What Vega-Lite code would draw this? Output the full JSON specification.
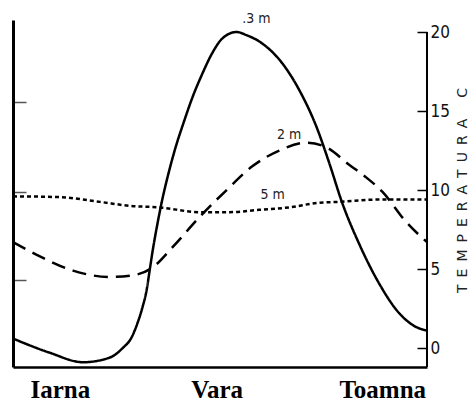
{
  "$schema": "https://vega.github.io/schema/vega-lite/v6.json",
  "width": 414,
  "height": 347,
  "autosize": {"type": "none"},
  "padding": {"left": 13, "top": 20, "right": 43, "bottom": 34},
  "background": "white",
  "config": {"view": {"stroke": null}},
  "datasets": {
    "curves": [
      {"x": 0, "t": 0.6, "d": "3 m"},
      {"x": 8.9, "t": -0.3, "d": "3 m"},
      {"x": 16.9, "t": -0.9, "d": "3 m"},
      {"x": 23.4, "t": -0.6, "d": "3 m"},
      {"x": 26.5, "t": 0.0, "d": "3 m"},
      {"x": 28.7, "t": 0.7, "d": "3 m"},
      {"x": 30.1, "t": 1.6, "d": "3 m"},
      {"x": 31.3, "t": 2.6, "d": "3 m"},
      {"x": 32.3, "t": 3.7, "d": "3 m"},
      {"x": 33.0, "t": 4.9, "d": "3 m"},
      {"x": 33.7, "t": 6.1, "d": "3 m"},
      {"x": 34.7, "t": 7.6, "d": "3 m"},
      {"x": 35.9, "t": 9.2, "d": "3 m"},
      {"x": 37.8, "t": 11.3, "d": "3 m"},
      {"x": 39.5, "t": 12.9, "d": "3 m"},
      {"x": 41.0, "t": 14.1, "d": "3 m"},
      {"x": 43.4, "t": 15.9, "d": "3 m"},
      {"x": 45.8, "t": 17.4, "d": "3 m"},
      {"x": 48.2, "t": 18.7, "d": "3 m"},
      {"x": 50.6, "t": 19.6, "d": "3 m"},
      {"x": 54.0, "t": 20.0, "d": "3 m"},
      {"x": 56.4, "t": 19.8, "d": "3 m"},
      {"x": 59.5, "t": 19.4, "d": "3 m"},
      {"x": 65.1, "t": 18.0, "d": "3 m"},
      {"x": 69.2, "t": 16.3, "d": "3 m"},
      {"x": 73.3, "t": 14.0, "d": "3 m"},
      {"x": 76.4, "t": 11.7, "d": "3 m"},
      {"x": 79.5, "t": 9.2, "d": "3 m"},
      {"x": 83.6, "t": 6.6, "d": "3 m"},
      {"x": 88.4, "t": 4.1, "d": "3 m"},
      {"x": 93.3, "t": 2.2, "d": "3 m"},
      {"x": 96.9, "t": 1.4, "d": "3 m"},
      {"x": 100, "t": 1.1, "d": "3 m"},
      {"x": 0, "t": 6.7, "d": "2 m"},
      {"x": 6.5, "t": 5.8, "d": "2 m"},
      {"x": 14.5, "t": 4.9, "d": "2 m"},
      {"x": 23.4, "t": 4.5, "d": "2 m"},
      {"x": 28.9, "t": 4.6, "d": "2 m"},
      {"x": 33.7, "t": 5.1, "d": "2 m"},
      {"x": 38.6, "t": 6.4, "d": "2 m"},
      {"x": 45.1, "t": 8.3, "d": "2 m"},
      {"x": 51.6, "t": 10.0, "d": "2 m"},
      {"x": 57.8, "t": 11.5, "d": "2 m"},
      {"x": 64.3, "t": 12.5, "d": "2 m"},
      {"x": 70.8, "t": 13.0, "d": "2 m"},
      {"x": 75.7, "t": 12.7, "d": "2 m"},
      {"x": 81.2, "t": 11.6, "d": "2 m"},
      {"x": 85.3, "t": 10.8, "d": "2 m"},
      {"x": 89.2, "t": 9.9, "d": "2 m"},
      {"x": 94.9, "t": 8.0, "d": "2 m"},
      {"x": 100, "t": 6.7, "d": "2 m"},
      {"x": 0, "t": 9.6, "d": "5 m"},
      {"x": 11.3, "t": 9.55, "d": "5 m"},
      {"x": 21, "t": 9.25, "d": "5 m"},
      {"x": 28.2, "t": 9.0, "d": "5 m"},
      {"x": 35.4, "t": 8.9, "d": "5 m"},
      {"x": 45.1, "t": 8.6, "d": "5 m"},
      {"x": 52.3, "t": 8.6, "d": "5 m"},
      {"x": 59.5, "t": 8.75, "d": "5 m"},
      {"x": 66.7, "t": 8.9, "d": "5 m"},
      {"x": 74, "t": 9.2, "d": "5 m"},
      {"x": 78.8, "t": 9.25, "d": "5 m"},
      {"x": 88.4, "t": 9.4, "d": "5 m"},
      {"x": 100, "t": 9.4, "d": "5 m"}
    ],
    "labels": [
      {"x": 58.8, "t": 20.8, "label": ".3 m"},
      {"x": 66.7, "t": 13.5, "label": "2 m"},
      {"x": 62.7, "t": 9.7, "label": "5 m"}
    ],
    "axisline": [
      {"x": 100, "t": -1.2, "t2": 20}
    ]
  },
  "layer": [
    {
      "data": {"name": "curves"},
      "mark": {"type": "line", "interpolate": "monotone", "color": "black", "strokeWidth": 2.5},
      "encoding": {
        "x": {
          "field": "x", "type": "quantitative",
          "scale": {"domain": [0, 100], "nice": false, "zero": false},
          "axis": {
            "orient": "bottom", "values": [11.3, 49.2, 89.2], "title": null,
            "labelExpr": "datum.value < 30 ? 'Iarna' : datum.value < 70 ? 'Vara' : 'Toamna'",
            "labelFont": "Liberation Serif", "labelFontSize": 25, "labelFontWeight": "bold",
            "labelColor": "black", "labelPadding": 10, "ticks": false, "grid": false,
            "domainColor": "black", "domainWidth": 2.5, "labelBaseline": "top"
          }
        },
        "y": {
          "field": "t", "type": "quantitative",
          "scale": {"domain": [-1.2, 20.76], "nice": false, "zero": false},
          "axis": {
            "orient": "right", "values": [0, 5, 10, 15, 20], "grid": false,
            "domain": false, "tickSize": -10, "tickColor": "black", "tickWidth": 1.5,
            "labelFont": "Liberation Sans Narrow, DejaVu Sans Condensed, sans-serif",
            "labelFontSize": 17, "labelColor": "#111", "labelPadding": 13,
            "title": "T\u2002E\u2002M\u2002P\u2002E\u2002R\u2002A\u2002T\u2002U\u2002R\u2002A\u2002\u2002\u2002C",
            "titleFont": "DejaVu Sans, sans-serif", "titleFontSize": 14, "titleFontWeight": "normal",
            "titleColor": "#222", "titleAngle": 270, "titleX": 35, "titleY": 170,
            "titleAlign": "center", "titleBaseline": "middle"
          }
        },
        "strokeDash": {
          "field": "d", "type": "nominal", "legend": null,
          "scale": {"domain": ["3 m", "2 m", "5 m"], "range": [[1, 0], [14, 8], [4, 3]]}
        },
        "detail": {"field": "d"}
      }
    },
    {
      "data": {"name": "labels"},
      "mark": {"type": "text", "font": "DejaVu Sans Condensed, sans-serif", "fontSize": 14, "color": "#222"},
      "encoding": {
        "x": {"field": "x", "type": "quantitative"},
        "y": {
          "field": "t", "type": "quantitative",
          "axis": {
            "orient": "left", "values": [4.3, 9.9, 15.6], "labels": false, "title": null,
            "grid": false, "tickSize": -13, "tickColor": "#555", "tickWidth": 1.5,
            "domainColor": "black", "domainWidth": 3
          }
        },
        "text": {"field": "label"}
      }
    },
    {
      "data": {"name": "axisline"},
      "mark": {"type": "rule", "color": "black", "strokeWidth": 2},
      "encoding": {
        "x": {"field": "x", "type": "quantitative"},
        "y": {"field": "t", "type": "quantitative", "axis": null},
        "y2": {"field": "t2"}
      }
    }
  ],
  "resolve": {"axis": {"y": "independent"}}
}
